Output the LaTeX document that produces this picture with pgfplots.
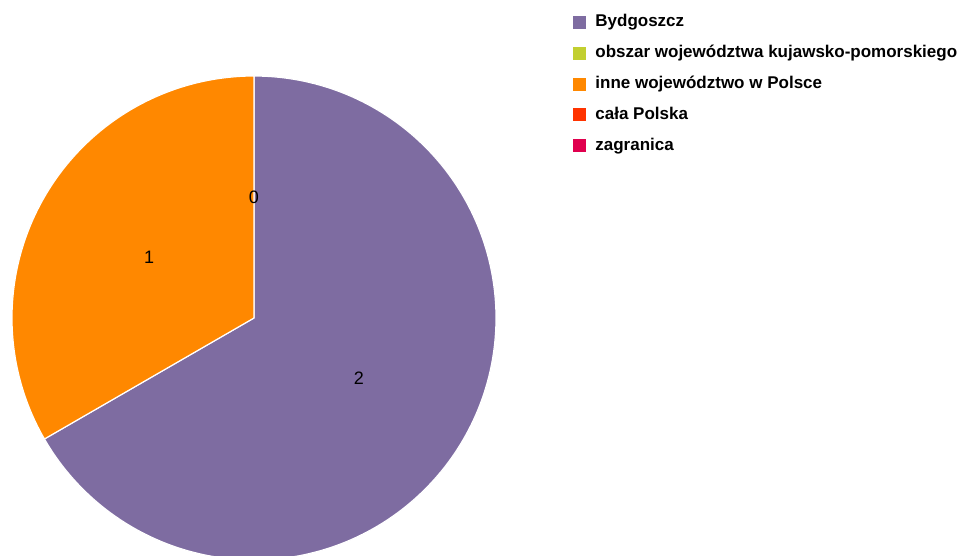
\documentclass[border=0pt]{standalone}
\usepackage{pgfplots}
\pgfplotsset{compat=1.18}
\usepackage{fontspec}
\setmainfont{Liberation Sans}
\definecolor{cA}{RGB}{126,108,161}
\definecolor{cB}{RGB}{194,207,48}
\definecolor{cC}{RGB}{255,136,0}
\definecolor{cD}{RGB}{255,51,0}
\definecolor{cE}{RGB}{224,0,78}
% #1 cumulative value before, #2 value, #3 colour, total = 3
\newcommand\piesector[3]{%
  \pgfmathsetmacro\sa{90-360*#1/3}%
  \pgfmathsetmacro\sb{90-360*(#1+#2)/3}%
  \pgfmathsetmacro\sm{(\sa+\sb)/2}%
  \pgfmathsetmacro\lx{254+121*cos(\sm)}%
  \pgfmathsetmacro\ly{238+121*sin(\sm)}%
  \ifdim #2pt>0pt
  \edef\doplot{\noexpand\addplot[forget plot, fill=#3, draw=white, line width=1.2pt, line join=round, domain=\sa:\sb, samples=181, variable=\noexpand\t] ({254+242*cos(\noexpand\t)},{238+242*sin(\noexpand\t)}) -- (axis cs:254,238) -- cycle;}%
  \doplot
  \fi
  \edef\dolabel{\noexpand\node[font=\noexpand\fontsize{18bp}{20bp}\noexpand\selectfont, inner sep=0pt] at (axis cs:\lx,\ly) {#2};}%
  \dolabel
}
\begin{document}
\begin{tikzpicture}
\begin{axis}[
  scale only axis, width=959bp, height=556bp,
  xmin=0, xmax=959, ymin=0, ymax=556,
  hide axis, clip=true,
  legend image code/.code={\fill[#1] (0bp,-1bp) rectangle (12bp,11bp);},
  legend style={at={(axis cs:573,542)}, anchor=north west, draw=none, fill=none,
    inner sep=0pt, outer sep=0pt,
    font=\fontsize{17bp}{20bp}\selectfont\bfseries,
    nodes={inner sep=0pt, text height=13bp, text depth=4bp, anchor=base west},
    column sep=10bp, row sep=13.9bp},
  legend cell align=left,
]
\piesector{0}{2}{cA}
\piesector{2}{1}{cC}
\node[font=\fontsize{18bp}{20bp}\selectfont, inner sep=0pt] at (axis cs:254,359) {0};
\addlegendimage{cA}\addlegendentry{Bydgoszcz}
\addlegendimage{cB}\addlegendentry{obszar województwa kujawsko-pomorskiego}
\addlegendimage{cC}\addlegendentry{inne województwo w Polsce}
\addlegendimage{cD}\addlegendentry{cała Polska}
\addlegendimage{cE}\addlegendentry{zagranica}
\end{axis}
\pgfresetboundingbox
\path[use as bounding box] (0,0) rectangle (959bp,556bp);
\end{tikzpicture}
\end{document}
